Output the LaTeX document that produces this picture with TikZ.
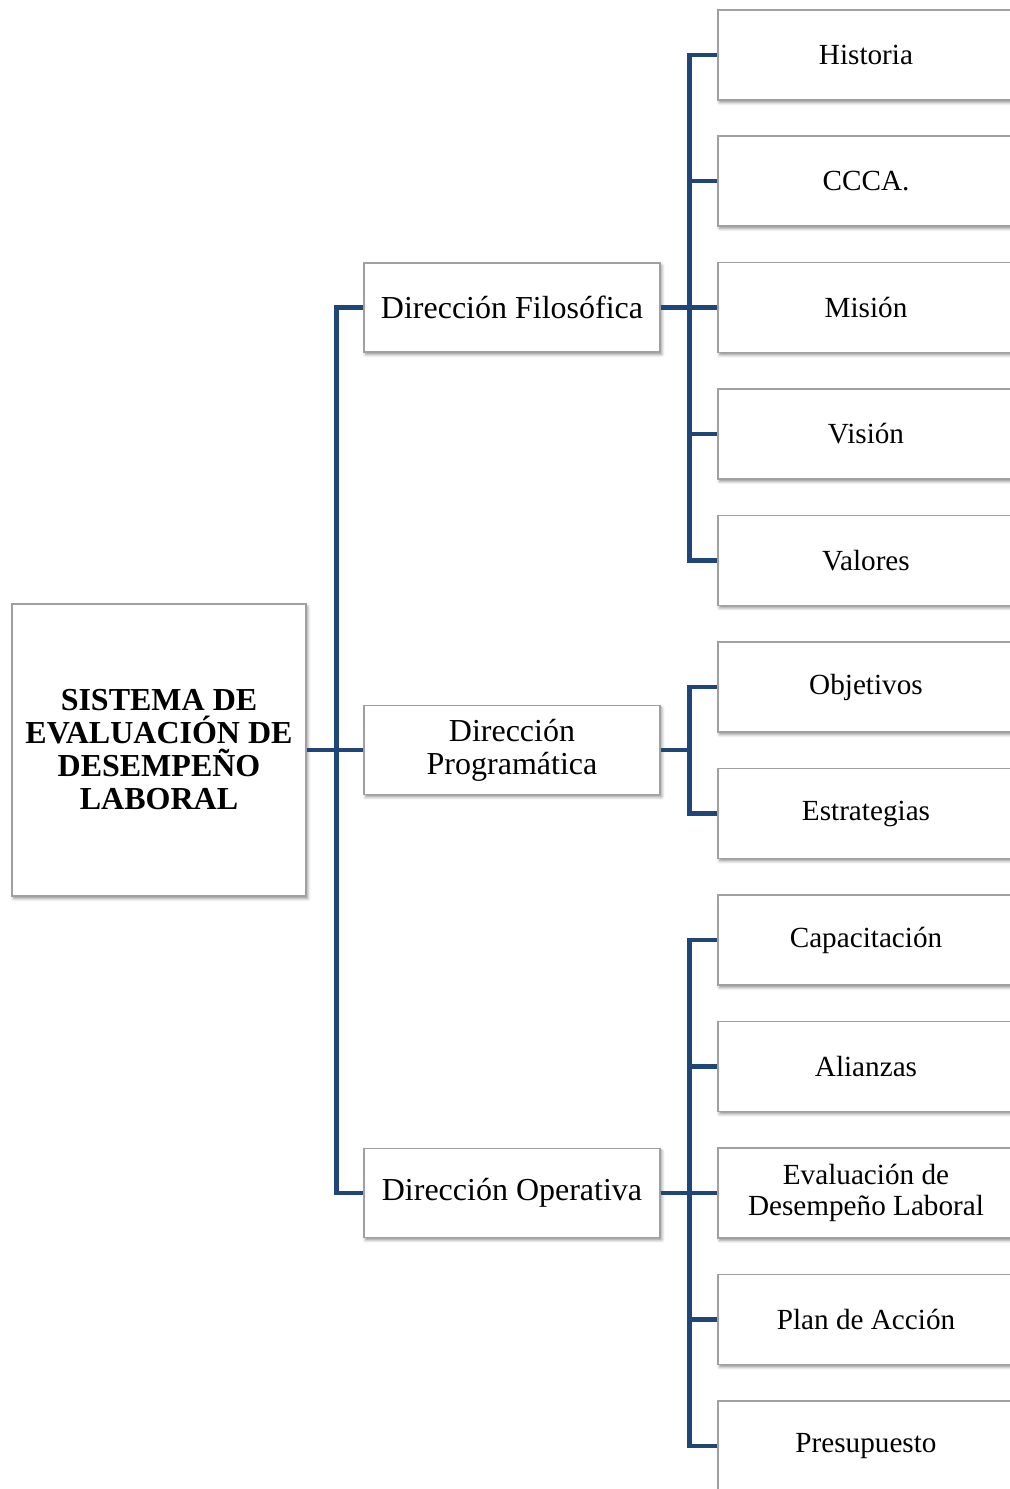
\documentclass[tikz,border=0pt]{standalone}
\usepackage{fontspec}
\setmainfont{Liberation Serif}
\usetikzlibrary{shadows.blur}
\definecolor{linkblue}{HTML}{1F4678}
\definecolor{boxgray}{HTML}{A0A0A0}
\tikzset{
  box/.style={draw=boxgray,line width=0.6pt,fill=white,align=center,
    font=\fontsize{16}{16.5}\selectfont,inner sep=2pt,
    blur shadow={shadow xshift=0.8pt,shadow yshift=-1.2pt,
      shadow blur radius=1.5pt,shadow opacity=45}},
  rootbox/.style={box,font=\fontsize{16}{16.5}\selectfont\bfseries,
    minimum width=147pt,minimum height=146pt},
  midbox/.style={box,minimum width=148pt,minimum height=44.5pt},
  leafbox/.style={box,font=\fontsize{14.6}{15.5}\selectfont,
    minimum width=148pt,minimum height=45pt},
  link/.style={draw=linkblue,line width=2.2pt}
}
\begin{document}
\begin{tikzpicture}[x=0.5pt,y=-0.5pt]
  \useasboundingbox (0,0) rectangle (1009,1489);
  % root and the three directions
  \node[rootbox] (root) at (159,750) {SISTEMA DE\\EVALUACIÓN DE\\DESEMPEÑO\\LABORAL};
  \node[midbox] (fil) at (512,307.5) {Dirección Filosófica};
  \node[midbox] (prog) at (512,750) {Dirección\\Programática};
  \node[midbox] (oper) at (512,1193) {Dirección Operativa};
  % leaves
  \foreach \name/\y/\txt in {hist/55/Historia,ccca/181/CCCA.,mision/307.5/Misión,
      vision/434/Visión,valores/560.5/Valores,obj/687/Objetivos,estr/813.5/Estrategias,
      capac/940/Capacitación,alian/1066.5/Alianzas,
      evalu/1193/{Evaluación de\\Desempeño Laboral},plan/1319.5/Plan de Acción,
      presu/1446/Presupuesto}
    \node[leafbox] (\name) at (866,\y) {\txt};
  % connectors
  \foreach \c in {fil,prog,oper}
    \draw[link] (root.east) -- ++(30,0) |- (\c.west);
  \foreach \c in {hist,ccca,mision,vision,valores}
    \draw[link] (fil.east) -- ++(29,0) |- (\c.west);
  \foreach \c in {obj,estr}
    \draw[link] (prog.east) -- ++(29,0) |- (\c.west);
  \foreach \c in {capac,alian,evalu,plan,presu}
    \draw[link] (oper.east) -- ++(29,0) |- (\c.west);
\end{tikzpicture}
\end{document}
